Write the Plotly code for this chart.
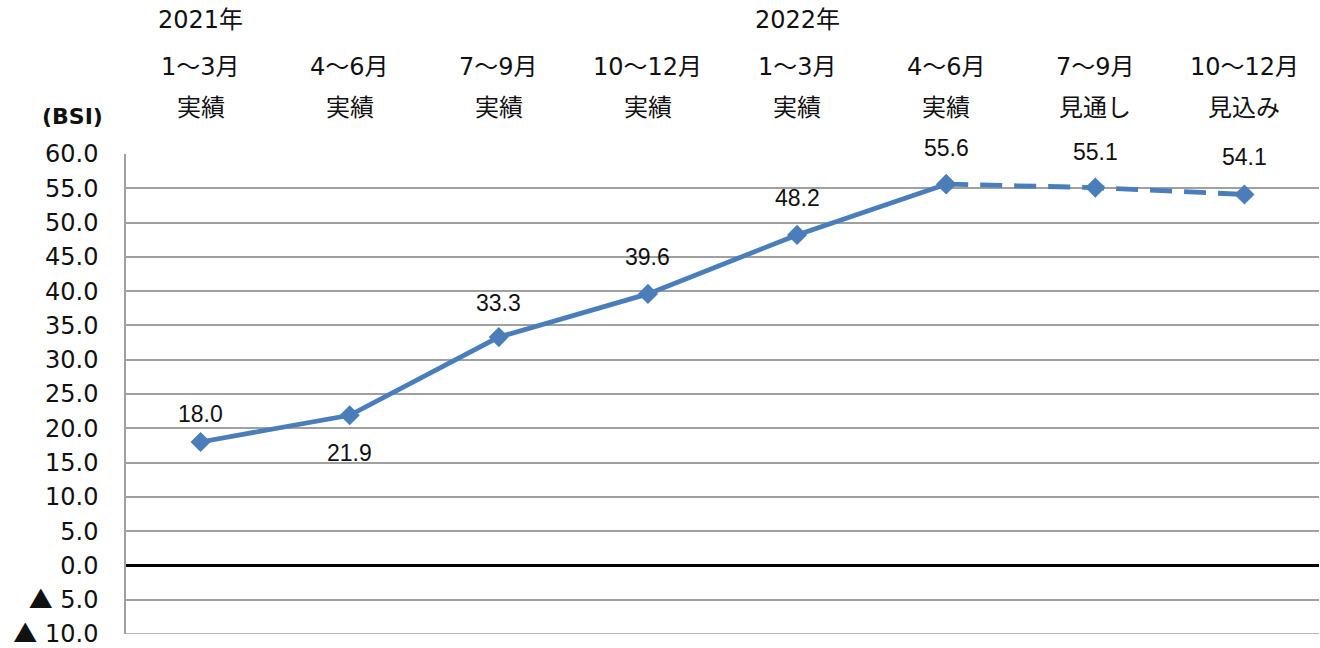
import plotly.graph_objects as go

# BSI by quarter
quarters = ["2021-1", "2021-2", "2021-3", "2021-4", "2022-1", "2022-2", "2022-3", "2022-4"]
bsi = [18.0, 21.9, 33.3, 39.6, 48.2, 55.6, 55.1, 54.1]
year_labels = ["2021年", "", "", "", "2022年", "", "", ""]
month_labels = ["1～3月", "4～6月", "7～9月", "10～12月", "1～3月", "4～6月", "7～9月", "10～12月"]
kind_labels = ["実績", "実績", "実績", "実績", "実績", "実績", "見通し", "見込み"]
label_offsets = [28, -38, 34, 37, 37, 36, 36, 37]

y_ticks = list(range(-10, 65, 5))
NEG_MARK = "<span style='font-family:Noto Sans CJK JP'>▲</span> "
y_tick_text = [(NEG_MARK + "%.1f" % abs(v)) if v < 0 else "%.1f" % v for v in y_ticks]

FONT = "DejaVu Sans, Noto Sans CJK JP, sans-serif"
LABEL_FONT = "Liberation Sans, Arial, sans-serif"
BLUE = "#4a7ebb"

x_idx = list(range(len(quarters)))
n_actual = 6

L, R, T, B, W, H = 126, 1, 154, 14, 1320, 648
plot_w = W - L - R
plot_h = H - T - B

fig = go.Figure()
fig.add_trace(go.Scatter(
    x=x_idx[:n_actual], y=bsi[:n_actual], mode="lines+markers",
    line=dict(color=BLUE, width=4.8),
    marker=dict(symbol="diamond", size=15.5, color=BLUE),
    hoverinfo="skip", showlegend=False,
))
fig.add_trace(go.Scatter(
    x=x_idx[n_actual - 1:], y=bsi[n_actual - 1:], mode="lines+markers",
    line=dict(color=BLUE, width=4.8, dash="22px,12px"),
    marker=dict(symbol="diamond", size=15.5, color=BLUE),
    hoverinfo="skip", showlegend=False,
))

annotations = []
for i, v in enumerate(bsi):
    annotations.append(dict(
        x=i, y=v, xref="x", yref="y", text="%.1f" % v, showarrow=False,
        yshift=label_offsets[i], font=dict(size=23, color="#111111", family=LABEL_FONT),
    ))


def header_y(py):
    return 1 + (T - py) / plot_h


for i in x_idx:
    for lab, py in ((year_labels[i], 20), (month_labels[i], 67), (kind_labels[i], 108)):
        if lab:
            annotations.append(dict(
                x=i, y=header_y(py), xref="x", yref="paper", text=lab,
                showarrow=False, yanchor="middle",
                font=dict(size=24, color="#111111", family=FONT),
            ))

annotations.append(dict(
    x=(72 - L) / plot_w, y=header_y(117), xref="paper", yref="paper",
    text="<b>(BSI)</b>", showarrow=False, yanchor="middle", xanchor="center",
    font=dict(size=22, color="#111111", family=FONT),
))

fig.update_layout(
    width=W, height=H,
    margin=dict(l=L, r=R, t=T, b=B),
    paper_bgcolor="white", plot_bgcolor="white",
    xaxis=dict(
        range=[-0.5, 7.5], showticklabels=False, showgrid=False,
        zeroline=False, showline=False, fixedrange=True, automargin=False,
    ),
    yaxis=dict(
        range=[-10, 60], tickvals=y_ticks, ticktext=y_tick_text,
        showgrid=True, gridcolor="#a0a0a0", gridwidth=1.5,
        zeroline=True, zerolinecolor="#000000", zerolinewidth=3,
        showline=True, linecolor="#a0a0a0", linewidth=1.5,
        ticks="", ticklabelstandoff=21, automargin=False,
        ticklabeloverflow="allow",
        tickfont=dict(size=24, color="#111111", family=FONT),
        fixedrange=True,
    ),
    annotations=annotations,
)
# bottom boundary of the plot area
fig.add_shape(type="line", xref="paper", yref="y", x0=0, x1=1, y0=-10, y1=-10,
              line=dict(color="#a0a0a0", width=1.5))

fig.write_html("out.html")
